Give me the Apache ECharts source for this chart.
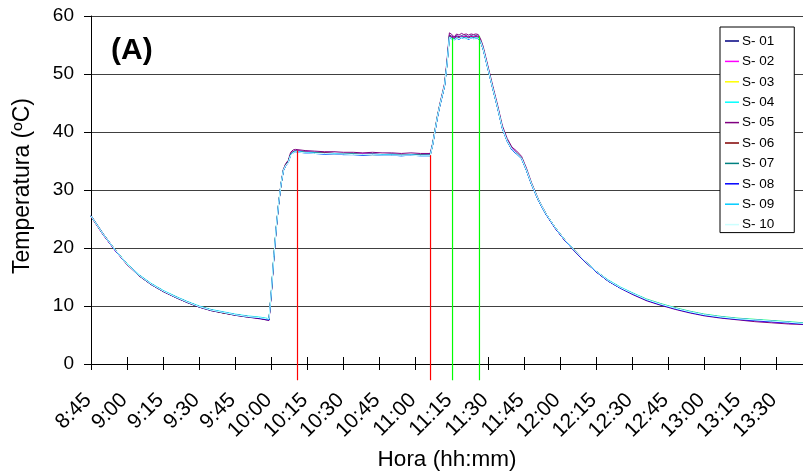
<!DOCTYPE html>
<html>
<head>
<meta charset="utf-8">
<style>
  html, body { margin: 0; padding: 0; background: #fff; }
  #grafico { width: 803px; height: 473px; }
</style>
<script src="https://cdn.jsdelivr.net/npm/echarts@6/dist/echarts.min.js"></script>
</head>
<body>
<div id="grafico"></div>
<script>
// Hora de cada lectura, en minutos desde medianoche (8:45 = 525)
const minutos = [
  525,530,535,540,545,550,555,560,565,570,575,580,585,590,595,598,
  599,600,601,602,603,604,605,606,607,608,609,610,
  614,618,622,626,630,634,638,642,646,650,654,658,662,666,
  667,668,669,670,671,672,673,674,
  675,676,677,678,679,680,681,682,683,684,685,686,
  687,688,690,692,694,696,698,700,702,704,706,708,
  711,714,718,722,726,730,735,740,745,750,756,762,768,774,780,787,794,801,808,815,821
];

// Temperatura (ºC) de cada sensor
const s01 = [
  25.6,22.5,19.7,17.2,15.2,13.7,12.5,11.5,10.6,9.8,9.2,8.8,8.4,8.1,7.9,7.6,
  7.6,12.4,18.2,23.3,27.5,31.0,33.5,34.4,34.9,36.2,36.6,36.8,
  36.6,36.5,36.4,36.3,36.3,36.2,36.2,36.2,36.1,36.2,36.1,36.1,36.1,36.0,
  37.7,40.1,42.5,44.5,46.2,48.0,51.9,56.7,
  56.5,56.3,56.6,56.4,56.6,56.5,56.6,56.4,56.6,56.5,56.6,56.5,
  55.7,54.5,51.1,47.7,44.4,40.8,38.6,37.1,36.4,35.5,33.5,31.1,
  28.2,25.9,23.4,21.3,19.5,17.8,15.9,14.3,13.1,12.1,11.0,10.2,9.5,8.9,8.4,8.0,7.7,7.5,7.3,7.1,6.9
];
const s02 = [
  25.4,22.3,19.6,17.2,15.3,13.8,12.6,11.6,10.7,9.9,9.3,8.9,8.5,8.2,7.9,7.7,
  7.6,12.5,18.3,23.4,27.6,31.1,33.5,34.4,34.9,36.2,36.6,36.8,
  36.6,36.4,36.4,36.3,36.3,36.2,36.2,36.2,36.1,36.1,36.1,36.1,36.0,36.0,
  37.8,40.2,42.6,44.7,46.4,48.2,51.9,56.6,
  56.4,56.2,56.5,56.3,56.5,56.4,56.5,56.3,56.5,56.4,56.5,56.4,
  55.7,54.5,51.1,47.7,44.4,40.8,38.6,37.1,36.4,35.6,33.6,31.2,
  28.3,26.0,23.5,21.4,19.6,17.9,16.0,14.4,13.2,12.2,11.1,10.3,9.6,9.0,8.5,8.1,7.8,7.5,7.3,7.1,6.9
];
const s03 = [
  25.5,22.4,19.7,17.2,15.3,13.8,12.6,11.6,10.7,9.9,9.3,8.9,8.5,8.2,8.0,7.8,
  7.7,12.6,18.4,23.5,27.7,31.1,33.4,34.3,34.8,36.1,36.5,36.7,
  36.5,36.4,36.3,36.2,36.2,36.2,36.1,36.1,36.1,36.0,36.0,36.0,36.0,35.9,
  37.8,40.3,42.7,44.7,46.4,48.2,51.8,56.4,
  56.2,56.0,56.2,56.1,56.3,56.2,56.2,56.1,56.3,56.2,56.2,56.2,
  55.6,54.4,51.0,47.6,44.3,40.7,38.5,37.0,36.3,35.5,33.5,31.2,
  28.3,26.0,23.5,21.4,19.6,17.9,16.0,14.4,13.2,12.2,11.2,10.4,9.7,9.1,8.6,8.2,7.9,7.7,7.5,7.3,7.1
];
const s04 = [
  25.5,22.4,19.7,17.3,15.4,13.9,12.7,11.7,10.8,10.0,9.4,9.0,8.6,8.3,8.1,7.9,
  7.8,12.7,18.5,23.5,27.7,31.1,33.4,34.3,34.8,36.1,36.4,36.6,
  36.4,36.3,36.2,36.2,36.1,36.1,36.0,36.1,36.0,36.0,35.9,36.0,35.9,35.9,
  37.7,40.1,42.5,44.5,46.2,48.0,51.6,56.2,
  56.0,55.9,56.1,56.0,56.2,56.1,56.1,56.0,56.2,56.1,56.1,56.1,
  55.5,54.3,50.9,47.5,44.2,40.6,38.4,36.9,36.2,35.4,33.4,31.1,
  28.2,25.9,23.5,21.4,19.6,17.9,16.0,14.5,13.3,12.3,11.2,10.4,9.7,9.1,8.6,8.2,7.9,7.7,7.5,7.3,7.1
];
const s05 = [
  25.5,22.3,19.6,17.1,15.2,13.7,12.5,11.5,10.6,9.8,9.2,8.8,8.4,8.1,7.8,7.6,
  7.5,12.3,18.2,23.3,27.6,31.1,33.6,34.6,35.1,36.5,36.9,37.0,
  36.8,36.7,36.6,36.6,36.5,36.5,36.4,36.5,36.4,36.4,36.3,36.4,36.3,36.3,
  38.0,40.4,42.8,44.8,46.6,48.4,52.3,57.1,
  56.8,56.4,56.9,56.7,57.0,56.8,56.9,56.7,56.9,56.8,56.9,56.8,
  56.0,54.8,51.4,48.0,44.7,41.1,38.9,37.4,36.7,35.8,33.8,31.4,
  28.4,26.0,23.4,21.3,19.5,17.8,15.9,14.3,13.1,12.0,10.9,10.1,9.4,8.8,8.3,7.9,7.6,7.3,7.1,6.9,6.8
];
const s06 = [
  25.4,22.4,19.7,17.2,15.3,13.8,12.6,11.6,10.7,9.9,9.3,8.8,8.5,8.2,7.9,7.7,
  7.7,12.5,18.4,23.4,27.6,31.0,33.4,34.4,34.9,36.2,36.6,36.7,
  36.5,36.4,36.4,36.3,36.2,36.2,36.1,36.2,36.1,36.1,36.0,36.1,36.0,36.0,
  37.8,40.2,42.6,44.6,46.3,48.1,51.8,56.5,
  56.3,56.1,56.4,56.2,56.4,56.3,56.4,56.2,56.4,56.3,56.4,56.3,
  55.6,54.4,51.0,47.6,44.3,40.7,38.5,37.0,36.3,35.5,33.5,31.2,
  28.3,26.0,23.5,21.4,19.6,17.9,16.0,14.4,13.2,12.2,11.1,10.3,9.6,9.0,8.5,8.1,7.8,7.6,7.4,7.2,7.0
];
const s07 = [
  25.5,22.4,19.7,17.2,15.3,13.8,12.6,11.6,10.7,9.9,9.3,8.9,8.5,8.2,8.0,7.8,
  7.7,12.6,18.4,23.4,27.6,31.0,33.4,34.3,34.8,36.1,36.5,36.7,
  36.5,36.4,36.3,36.3,36.2,36.2,36.1,36.1,36.1,36.1,36.0,36.0,36.0,36.0,
  37.8,40.2,42.6,44.6,46.3,48.1,51.7,56.4,
  56.2,56.0,56.3,56.1,56.3,56.2,56.3,56.1,56.3,56.2,56.3,56.2,
  55.6,54.4,51.0,47.6,44.3,40.7,38.5,37.0,36.3,35.5,33.5,31.2,
  28.3,26.0,23.5,21.4,19.6,17.9,16.0,14.4,13.2,12.2,11.1,10.3,9.6,9.0,8.5,8.1,7.8,7.6,7.4,7.2,7.0
];
const s08 = [
  25.5,22.4,19.6,17.2,15.3,13.8,12.6,11.6,10.7,9.9,9.3,8.9,8.5,8.2,7.9,7.7,
  7.6,12.5,18.3,23.4,27.6,31.0,33.3,34.2,34.7,36.0,36.4,36.6,
  36.4,36.3,36.2,36.2,36.1,36.1,36.0,36.1,36.0,36.0,35.9,36.0,35.9,35.9,
  37.7,40.1,42.5,44.5,46.2,48.0,51.7,56.3,
  56.1,55.9,56.2,56.0,56.3,56.1,56.2,56.0,56.2,56.1,56.2,56.1,
  55.5,54.3,50.9,47.5,44.2,40.6,38.4,36.9,36.2,35.4,33.4,31.1,
  28.2,25.9,23.4,21.3,19.5,17.8,15.9,14.3,13.1,12.1,11.0,10.2,9.5,8.9,8.4,8.0,7.7,7.5,7.3,7.1,6.9
];
const s09 = [
  25.5,22.4,19.7,17.2,15.3,13.8,12.6,11.6,10.7,9.9,9.3,8.9,8.5,8.2,8.0,7.8,
  7.7,12.6,18.4,23.4,27.6,31.0,33.4,34.3,34.8,36.1,36.5,36.7,
  36.5,36.4,36.3,36.3,36.2,36.2,36.1,36.2,36.1,36.1,36.0,36.1,36.0,36.0,
  37.8,40.2,42.6,44.6,46.3,48.1,51.8,56.4,
  56.2,56.0,56.3,56.1,56.4,56.2,56.3,56.1,56.3,56.2,56.3,56.2,
  55.6,54.4,51.0,47.6,44.3,40.7,38.5,37.0,36.3,35.5,33.5,31.2,
  28.3,26.0,23.5,21.4,19.6,17.9,16.0,14.4,13.2,12.2,11.1,10.3,9.6,9.0,8.5,8.1,7.8,7.6,7.4,7.2,7.0
];
const s10 = [
  25.5,22.4,19.7,17.2,15.3,13.8,12.6,11.6,10.7,9.9,9.3,8.9,8.5,8.2,8.0,7.8,
  7.8,12.7,18.5,23.5,27.7,31.1,33.4,34.3,34.7,36.0,36.4,36.6,
  36.4,36.3,36.3,36.2,36.2,36.1,36.1,36.1,36.0,36.0,36.0,36.0,35.9,35.9,
  37.7,40.2,42.6,44.6,46.3,48.1,51.7,56.3,
  56.1,55.9,56.2,56.1,56.3,56.1,56.2,56.1,56.2,56.1,56.2,56.2,
  55.6,54.4,51.0,47.6,44.3,40.7,38.5,37.0,36.3,35.5,33.5,31.2,
  28.3,26.0,23.5,21.4,19.6,17.9,16.0,14.4,13.2,12.2,11.1,10.3,9.6,9.0,8.5,8.1,7.8,7.6,7.4,7.2,7.0
];

const sensores = ['S- 01','S- 02','S- 03','S- 04','S- 05','S- 06','S- 07','S- 08','S- 09','S- 10'];
const lecturas = [s01, s02, s03, s04, s05, s06, s07, s08, s09, s10];
const colores = ['#000080','#FF00FF','#FFFF00','#00FFFF','#800080','#800000','#008080','#0000FF','#00CCFF','#CCFFFF'];

// Etiquetas del eje horizontal, cada 15 minutos desde las 8:45
const etiquetasHora = ['8:45','9:00','9:15','9:30','9:45','10:00','10:15','10:30','10:45','11:00',
  '11:15','11:30','11:45','12:00','12:15','12:30','12:45','13:00','13:15','13:30'];

// Instantes marcados con líneas verticales: [minuto, temperatura superior]
const cortesRojos = [[610.85, 36.8], [666.15, 36.0]];
const cortesVerdes = [[675.3, 56.2], [686.5, 56.5]];
const baseCorte = -2.8;

const inicio = 525, fin = 821;

const series = sensores.map((nombre, i) => ({
  name: nombre,
  type: 'line',
  data: minutos.map((t, k) => [t, lecturas[i][k]]),
  symbol: 'none',
  lineStyle: { color: colores[i], width: 1 },
  itemStyle: { color: colores[i] },
  z: 3
}));

function lineaVertical(par, color) {
  return {
    type: 'line',
    data: [[par[0], baseCorte], [par[0], par[1]]],
    symbol: 'none',
    clip: false,
    silent: true,
    lineStyle: { color: color, width: 1.2 },
    z: 4
  };
}
cortesRojos.forEach(p => series.push(lineaVertical(p, '#FF0000')));
cortesVerdes.forEach(p => series.push(lineaVertical(p, '#00FF00')));

const chart = echarts.init(document.getElementById('grafico'), null, { renderer: 'canvas' });

const ejeX = {
  type: 'value',
  min: inicio,
  max: fin,
  interval: 15,
  gridIndex: 0,
  position: 'bottom',
  splitLine: { show: false }
};

chart.setOption({
  animation: false,
  backgroundColor: '#ffffff',
  textStyle: { fontFamily: 'Liberation Sans, Arial, sans-serif' },
  grid: { left: 91, right: 0, top: 16, bottom: 109, containLabel: false, outerBoundsMode: 'none' },
  title: {
    text: '(A)',
    left: 106,
    top: 31,
    textStyle: { fontSize: 30, fontWeight: 'bold', color: '#000', fontFamily: 'Liberation Sans, Arial, sans-serif' }
  },
  legend: {
    data: sensores,
    orient: 'vertical',
    left: 720,
    top: 27,
    icon: 'rect',
    itemWidth: 14,
    itemHeight: 1.5,
    itemGap: 6.4,
    padding: [7, 20, 1, 5],
    backgroundColor: '#ffffff',
    borderColor: '#000000',
    borderWidth: 1,
    borderRadius: 0,
    textStyle: { fontSize: 13.5, color: '#000', lineHeight: 14, padding: [0, 0, 0, -2] }
  },
  xAxis: [
    Object.assign({}, ejeX, {
      name: 'Hora (hh:mm)',
      nameLocation: 'middle',
      nameGap: 78,
      nameTextStyle: { fontSize: 22.5, color: '#000' },
      axisLine: { show: true, onZero: false, lineStyle: { color: '#000', width: 1 } },
      axisTick: { show: true, length: 6, lineStyle: { color: '#000' } },
      axisLabel: {
        rotate: 45,
        fontSize: 21,
        color: '#000',
        margin: 30,
        padding: [0, 4, 0, 0],
        showMaxLabel: false,
        formatter: v => {
          const k = (v - inicio) / 15;
          return Number.isInteger(k) && etiquetasHora[k] ? etiquetasHora[k] : '';
        }
      }
    }),
    Object.assign({}, ejeX, {
      axisLine: { show: false },
      axisTick: { show: true, inside: true, length: 7, lineStyle: { color: '#000' } },
      axisLabel: { show: false }
    })
  ],
  yAxis: {
    type: 'value',
    min: 0,
    max: 60,
    interval: 10,
    name: 'Temperatura (ºC)',
    nameLocation: 'middle',
    nameGap: 57,
    nameTextStyle: { fontSize: 23, color: '#000', padding: [0, 0, 0, 8] },
    axisLine: { show: true, lineStyle: { color: '#000', width: 1 } },
    axisTick: { show: true, length: 7, lineStyle: { color: '#000' } },
    axisLabel: { fontSize: 19, color: '#000', margin: 17 },
    splitLine: { show: true, lineStyle: { color: '#404040', width: 1 } }
  },
  series: series
});
</script>
</body>
</html>
